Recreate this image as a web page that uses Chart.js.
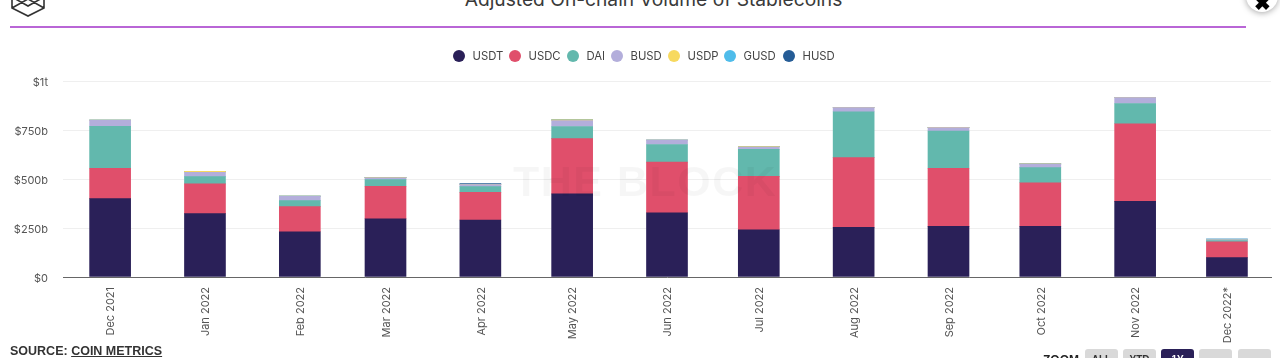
<!DOCTYPE html>
<html><head><meta charset="utf-8">
<style>
html,body{margin:0;padding:0;background:#fff;width:1280px;height:358px;overflow:hidden;font-family:Inter,"Liberation Sans",sans-serif}
#wrap{position:absolute;left:0;top:0;width:1280px;height:358px;overflow:hidden}
canvas{position:absolute;left:0;top:0}
.t{position:absolute;white-space:nowrap}
#title{left:0;width:1307px;top:-13px;text-align:center;font-size:19.2px;color:#3a3a3a;line-height:24px}
#rule{position:absolute;left:10px;top:26px;width:1236px;height:2px;background:#b966d6}
#source{left:10px;top:344px;font:bold 12.5px "Liberation Sans",sans-serif;color:#333}
#source u{text-underline-offset:1px}
#zoom{left:1043px;top:353px;font:bold 12px "Liberation Sans",sans-serif;color:#222}
.btn{position:absolute;top:349px;width:33px;height:20px;background:#d9d9d9;border-radius:3px;text-align:center;font:bold 10px/22px "Liberation Sans",sans-serif;color:#333}
.on{background:#2a2058;color:#fff}
#close{position:absolute;left:1246px;top:-20px;width:32px;height:32px;border-radius:50%;background:#fff;box-shadow:0 1px 6px rgba(0,0,0,.35);text-align:center;font:bold 20px/46px "Liberation Sans",sans-serif;color:#000}
#wm{left:513px;top:157px;font:bold 43px "Liberation Sans",sans-serif;letter-spacing:1.5px;color:rgba(0,0,0,.035)}
</style></head><body><div id="wrap">
<svg style="position:absolute;left:10px;top:-12px" width="36" height="30" viewBox="0 0 36 30" fill="none" stroke="#333" stroke-width="1.6"><path d="M2 9 18 1 34 9V20L18 28 2 20Z M2 9 18 18 34 9 M2 20 18 11 34 20"/></svg>
<div class="t" id="title">Adjusted On-chain Volume of Stablecoins</div>
<div id="rule"></div>
<canvas id="c" width="1280" height="358"></canvas>
<div class="t" id="wm">THE BLOCK</div>
<div class="t" id="source">SOURCE: <u>COIN METRICS</u></div>
<div class="t" id="zoom">ZOOM</div>
<div class="btn" style="left:1085px">ALL</div>
<div class="btn" style="left:1123px">YTD</div>
<div class="btn on" style="left:1161px">1Y</div>
<div class="btn" style="left:1199px"></div>
<div class="btn" style="left:1238px"></div>
<div id="close">✖</div>
</div>
<script src="https://cdn.jsdelivr.net/npm/chart.js@4"></script>
<script>
const categories=["Dec 2021","Jan 2022","Feb 2022","Mar 2022","Apr 2022","May 2022","Jun 2022","Jul 2022","Aug 2022","Sep 2022","Oct 2022","Nov 2022","Dec 2022*"];
const dayOfPeriod=[0,31,62,90,121,151,182,212,243,274,304,335,365];
const USDT=[400,323,231,297,291,424,328,241,253,258,258,386,99];
const USDC=[155,152,128,166,141,282,258,272,356,297,223,396,81];
const DAI=[214,37,31,34,29,62,90,138,234,190,77,103,6];
const BUSD=[30,22,22,9,10,30,22,12,21,17,18,31,4];
const USDP=[2,5,1,1,1,4,1,2,1,1,1,1,0];
const GUSD=[0,0,0,0,0,0,0,0,0,0,0,0,3];
const HUSD=[0,0,0,1,5,0,0,0,0,0,0,0,0];
const names=["USDT","USDC","DAI","BUSD","USDP","GUSD","HUSD"];
const colors=["#2a2058","#e04f6b","#62b8ad","#b3aedb","#f7d95f","#4fbcea","#255c96"];
const yTicks=[0,250,500,750,1000];
const font='Inter,"Liberation Sans",sans-serif';
const all=[USDT,USDC,DAI,BUSD,USDP,GUSD,HUSD];
new Chart(document.getElementById('c'),{
 type:'bar',
 data:{datasets:names.map((n,i)=>({label:n,backgroundColor:colors[i],borderWidth:0,barThickness:41,
   data:all[i].map((v,j)=>({x:dayOfPeriod[j],y:v}))}))},
 options:{responsive:false,animation:false,
  layout:{padding:{top:81,right:9,left:0,bottom:0}},
  plugins:{legend:{display:false},tooltip:{enabled:false}},
  scales:{
   x:{type:'linear',stacked:true,min:-15.4,max:379.4,offset:false,
     afterBuildTicks(a){a.ticks=dayOfPeriod.map(v=>({value:v}));},
     afterFit(a){a.height=81;},
     grid:{display:false,drawTicks:false},border:{color:'#666',width:1},
     ticks:{autoSkip:false,maxRotation:90,minRotation:90,padding:10,labelOffset:1,color:'#555',font:{size:11,family:font},
       callback(v){return categories[dayOfPeriod.indexOf(v)];}}},
   y:{type:'linear',stacked:true,min:0,max:1000,
     afterBuildTicks(a){a.ticks=yTicks.map(v=>({value:v}));},
     afterFit(a){a.width=63;},
     grid:{color:'#efefef',drawTicks:false},border:{display:false},
     ticks:{padding:15,labelOffset:1.5,color:'#555',font:{size:11,family:font},
       callback(v){return v===1000?'$1t':'$'+v+(v?'b':'');}}}
  }},
 plugins:[{id:'legend2',afterDraw(ch){
   const c=ch.ctx;const xs=[459,515,573,617,674,730,789];
   c.save();c.font='11.3px '+font;c.textBaseline='middle';
   names.forEach((n,i)=>{c.fillStyle=colors[i];c.beginPath();c.arc(xs[i],56,6,0,7);c.fill();
     c.fillStyle='#444';c.fillText(n,xs[i]+13.5,57);});
   c.restore();
 }}]
});
</script></body></html>
